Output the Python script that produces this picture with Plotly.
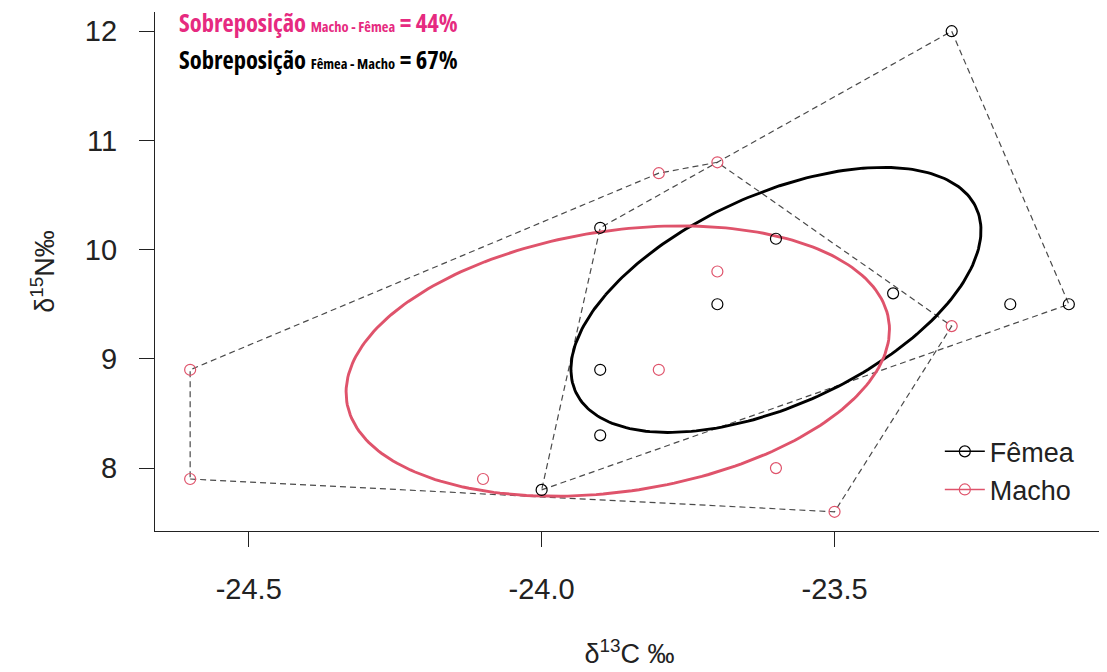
import numpy as np
import plotly.graph_objects as go

# ---- data ----
femea_c = [-23.3, -23.1, -23.2, -23.4, -23.6, -23.7, -23.9, -23.9, -23.9, -24.0]
femea_n = [12.0, 9.5, 9.5, 9.6, 10.1, 9.5, 10.2, 8.9, 8.3, 7.8]
macho_c = [-23.8, -23.7, -23.7, -23.8, -24.1, -23.6, -23.5, -23.3, -24.6, -24.6]
macho_n = [10.7, 10.8, 9.8, 8.9, 7.9, 8.0, 7.6, 9.3, 8.9, 7.9]
group_names = ["Fêmea", "Macho"]
overlap_mf = 44
overlap_fm = 67
x_ticks = [-24.5, -24.0, -23.5]
y_ticks = [8, 9, 10, 11, 12]

BLACK = "#000000"
RED = "#DF536B"
PINK = "#E62A80"
HULL = "#4a4a4a"


def convex_hull(xs, ys):
    pts = sorted(set(zip(xs, ys)))

    def cross(o, a, b):
        return (a[0] - o[0]) * (b[1] - o[1]) - (a[1] - o[1]) * (b[0] - o[0])

    lower, upper = [], []
    for p in pts:
        while len(lower) >= 2 and cross(lower[-2], lower[-1], p) <= 0:
            lower.pop()
        lower.append(p)
    for p in reversed(pts):
        while len(upper) >= 2 and cross(upper[-2], upper[-1], p) <= 0:
            upper.pop()
        upper.append(p)
    hull = lower[:-1] + upper[:-1]
    hull.append(hull[0])
    return [p[0] for p in hull], [p[1] for p in hull]


def seac(xs, ys, npts=240):
    x = np.asarray(xs, float)
    y = np.asarray(ys, float)
    n = len(x)
    mu = np.array([x.mean(), y.mean()])
    S = np.cov(x, y)
    vals, vecs = np.linalg.eigh(S)
    t = np.linspace(0, 2 * np.pi, npts)
    circ = np.vstack([np.cos(t), np.sin(t)])
    pts = vecs @ (np.sqrt(vals)[:, None] * circ) * np.sqrt((n - 1) / (n - 2))
    return mu[0] + pts[0], mu[1] + pts[1]


all_x = femea_c + macho_c
all_y = femea_n + macho_n
xr = max(all_x) - min(all_x)
yr = max(all_y) - min(all_y)
x_range = [min(all_x) - 0.04 * xr, max(all_x) + 0.04 * xr]
y_range = [min(all_y) - 0.04 * yr, max(all_y) + 0.04 * yr]

fig = go.Figure()

groups = [(femea_c, femea_n, BLACK, group_names[0]), (macho_c, macho_n, RED, group_names[1])]

# hulls
for xs, ys, col, name in groups:
    hx, hy = convex_hull(xs, ys)
    fig.add_trace(go.Scatter(x=hx, y=hy, mode="lines", showlegend=False, hoverinfo="skip",
                             line=dict(color=HULL, width=1.2, dash="6px,4px")))

# ellipses
for xs, ys, col, name in groups:
    ex, ey = seac(xs, ys)
    fig.add_trace(go.Scatter(x=ex, y=ey, mode="lines", showlegend=False, hoverinfo="skip",
                             line=dict(color=col, width=2.9)))

# points
for xs, ys, col, name in groups:
    fig.add_trace(go.Scatter(x=xs, y=ys, mode="markers", showlegend=False, name=name,
                             marker=dict(symbol="circle-open", size=11, color=col,
                                         line=dict(width=1.2, color=col))))

# legend entries
for i, (xs, ys, col, name) in enumerate(groups):
    fig.add_trace(go.Scatter(x=[None], y=[None], mode="lines+markers", name=name,
                             legendgroup=name,
                             line=dict(color=col, width=1.5),
                             marker=dict(symbol="circle-open", size=11, color=col,
                                         line=dict(width=1.2, color=col))))

cond_font = "Open Sans, Roboto, sans-serif"
cs = "font-stretch:condensed;font-stretch:75%"

fig.add_annotation(xref="paper", yref="paper", x=0.024, y=0.979, xanchor="left", yanchor="middle",
                   showarrow=False, align="left", borderpad=0,
                   text=(f"<span style='{cs}'><b>Sobreposição</b> "
                         f"<b><span style='font-size:14.5px;{cs}'>Macho - Fêmea</span></b>"
                         f" <b>= {overlap_mf}%</b></span>"),
                   font=dict(family=cond_font, size=24.5, color=PINK))
fig.add_annotation(xref="paper", yref="paper", x=0.024, y=0.909, xanchor="left", yanchor="middle",
                   showarrow=False, align="left", borderpad=0,
                   text=(f"<span style='{cs}'><b>Sobreposição</b> "
                         f"<b><span style='font-size:14.5px;{cs}'>Fêmea - Macho</span></b>"
                         f" <b>= {overlap_fm}%</b></span>"),
                   font=dict(family=cond_font, size=24.5, color=BLACK))

tick_font = dict(family="Liberation Sans, Arial, sans-serif", size=29, color="#222222")
title_font = dict(family="Liberation Sans, Arial, sans-serif", size=27, color="#222222")
leg_font = dict(family="Liberation Sans, Arial, sans-serif", size=27, color="#222222")

fig.update_layout(
    width=1099, height=664,
    margin=dict(l=147, r=3, t=4, b=141),
    paper_bgcolor="white", plot_bgcolor="white",
    font=tick_font,
    legend=dict(x=0.827, y=0.116, xanchor="left", yanchor="middle",
                font=leg_font,
                bgcolor="rgba(0,0,0,0)", traceorder="grouped", tracegroupgap=0,
                itemwidth=40),
    xaxis=dict(range=x_range, tickvals=x_ticks, ticktext=[f"{v:.1f}" for v in x_ticks],
               showgrid=False, zeroline=False, showline=True, linecolor="#222222", linewidth=1.2,
               ticks="outside", ticklen=15, tickwidth=1.2, tickcolor="#222222",
               ticklabelstandoff=17, automargin=False, tickfont=tick_font,
               title=dict(text="δ<sup>13</sup>C ‰", standoff=40, font=title_font)),
    yaxis=dict(range=y_range, tickvals=y_ticks, ticktext=[str(v) for v in y_ticks],
               showgrid=False, zeroline=False, showline=True, linecolor="#222222", linewidth=1.2,
               ticks="outside", ticklen=15, tickwidth=1.2, tickcolor="#222222",
               ticklabelstandoff=16, automargin=False, tickfont=tick_font,
               title=dict(text="δ<sup>15</sup>N‰", standoff=22, font=title_font)),
)

fig.write_html("out.html")
